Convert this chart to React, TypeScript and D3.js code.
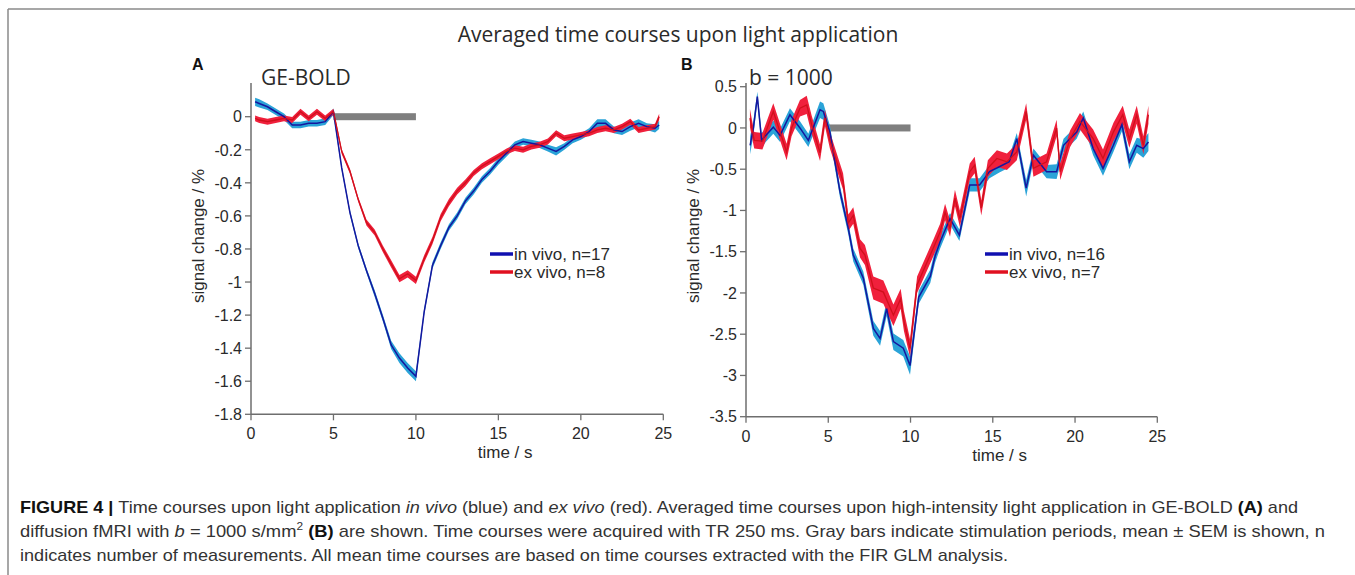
import React from "react";
import * as d3 from "d3";

// ---------- DATA ----------
const X_TICKS = [0, 5, 10, 15, 20, 25];
const A_Y_TICKS = [0, -0.2, -0.4, -0.6, -0.8, -1, -1.2, -1.4, -1.6, -1.8];
const B_Y_TICKS = [0.5, 0, -0.5, -1, -1.5, -2, -2.5, -3, -3.5];
const STIM = [5, 10];

// Panel A (GE-BOLD)
const A_TIME = [0.25, 0.5, 1, 1.5, 2, 2.5, 3, 3.5, 4, 4.5, 5, 5.5, 6, 6.5, 7, 7.5, 8, 8.5, 9, 9.5, 10, 10.5, 11, 11.5, 12, 12.5, 13, 13.5, 14, 14.5, 15, 15.5, 16, 16.5, 17, 17.5, 18, 18.5, 19, 19.5, 20, 20.5, 21, 21.5, 22, 22.5, 23, 23.5, 24, 24.5, 24.75];
const A_INVIVO = [0.09, 0.08, 0.06, 0.03, 0.0, -0.05, -0.05, -0.04, -0.04, -0.03, 0.03, -0.31, -0.58, -0.78, -0.93, -1.07, -1.22, -1.38, -1.46, -1.52, -1.57, -1.18, -0.9, -0.78, -0.67, -0.6, -0.51, -0.45, -0.38, -0.33, -0.27, -0.22, -0.17, -0.15, -0.16, -0.17, -0.19, -0.21, -0.18, -0.14, -0.12, -0.09, -0.04, -0.04, -0.08, -0.09, -0.06, -0.04, -0.06, -0.07, -0.05];
const A_INVIVO_SEM = [0.025, 0.025, 0.02, 0.02, 0.02, 0.02, 0.02, 0.02, 0.02, 0.02, 0.02, 0.015, 0.015, 0.015, 0.015, 0.02, 0.02, 0.025, 0.03, 0.03, 0.03, 0.02, 0.02, 0.02, 0.02, 0.02, 0.02, 0.02, 0.02, 0.02, 0.02, 0.02, 0.02, 0.02, 0.02, 0.02, 0.02, 0.025, 0.02, 0.02, 0.02, 0.02, 0.025, 0.025, 0.02, 0.02, 0.025, 0.025, 0.02, 0.025, 0.025];
const A_EXVIVO = [-0.01, -0.02, -0.03, -0.02, -0.01, -0.02, 0.03, -0.01, 0.03, -0.01, 0.03, -0.21, -0.33, -0.5, -0.64, -0.7, -0.8, -0.89, -0.98, -0.95, -0.99, -0.86, -0.75, -0.61, -0.52, -0.45, -0.4, -0.34, -0.3, -0.27, -0.24, -0.21, -0.19, -0.2, -0.18, -0.17, -0.15, -0.1, -0.13, -0.12, -0.11, -0.1, -0.08, -0.07, -0.08, -0.06, -0.03, -0.08, -0.07, -0.06, 0.0];
const A_EXVIVO_SEM = [0.018, 0.018, 0.018, 0.018, 0.018, 0.018, 0.018, 0.018, 0.018, 0.018, 0.018, 0.015, 0.015, 0.015, 0.018, 0.018, 0.02, 0.022, 0.022, 0.022, 0.022, 0.022, 0.022, 0.022, 0.022, 0.02, 0.02, 0.018, 0.018, 0.018, 0.018, 0.018, 0.018, 0.018, 0.018, 0.018, 0.018, 0.018, 0.018, 0.018, 0.018, 0.018, 0.018, 0.018, 0.018, 0.018, 0.018, 0.018, 0.018, 0.018, 0.018];

// Panel B (b = 1000)
const B_INVIVO_TIME = [0.25, 0.45, 0.69, 0.95, 1.2, 1.66, 2.07, 2.67, 3.28, 3.79, 4.5, 4.7, 5.1, 5.71, 6.22, 6.52, 7.13, 7.74, 8.15, 8.55, 8.96, 9.56, 9.97, 10.5, 11.2, 11.5, 11.8, 12.4, 12.97, 13.6, 14.2, 14.8, 15.4, 16.0, 16.46, 17.03, 17.47, 18.27, 18.88, 19.3, 20.1, 20.5, 21.1, 21.7, 22.33, 22.85, 23.3, 23.75, 24.15, 24.46];
const B_INVIVO = [-0.21, 0.0, 0.38, -0.15, -0.09, 0.01, -0.09, 0.16, 0.0, -0.15, 0.22, 0.2, -0.05, -0.77, -1.22, -1.54, -1.82, -2.43, -2.55, -2.19, -2.59, -2.67, -2.88, -2.05, -1.8, -1.55, -1.38, -1.1, -1.3, -0.69, -0.69, -0.53, -0.47, -0.41, -0.13, -0.73, -0.33, -0.53, -0.53, -0.21, -0.05, 0.12, -0.25, -0.49, -0.21, 0.04, -0.41, -0.21, -0.25, -0.17];
const B_INVIVO_SEM = [0.11, 0.09, 0.06, 0.09, 0.08, 0.08, 0.08, 0.08, 0.08, 0.08, 0.1, 0.1, 0.08, 0.07, 0.07, 0.08, 0.08, 0.09, 0.09, 0.09, 0.1, 0.1, 0.11, 0.08, 0.08, 0.08, 0.08, 0.07, 0.07, 0.08, 0.08, 0.08, 0.07, 0.07, 0.07, 0.1, 0.08, 0.08, 0.09, 0.08, 0.08, 0.08, 0.08, 0.09, 0.08, 0.08, 0.09, 0.09, 0.11, 0.11];
const B_EXVIVO_TIME = [0.24, 0.5, 1.0, 1.66, 2.47, 2.77, 3.28, 3.69, 3.99, 4.5, 4.8, 5.1, 5.71, 5.9, 6.22, 6.52, 6.93, 7.23, 7.74, 8.35, 8.96, 9.4, 9.6, 9.97, 10.4, 11.4, 11.8, 12.1, 12.4, 12.7, 13.0, 13.6, 13.9, 14.3, 14.7, 15.25, 15.86, 16.46, 17.03, 17.47, 18.27, 18.88, 19.1, 19.7, 20.3, 21.1, 21.7, 22.33, 22.9, 23.3, 23.75, 24.15, 24.46];
const B_EXVIVO = [0.12, -0.15, -0.16, 0.2, -0.29, 0.0, 0.24, 0.28, 0.04, -0.3, 0.12, -0.15, -0.53, -0.65, -1.15, -1.06, -1.46, -1.54, -1.94, -1.99, -2.27, -2.07, -2.34, -2.67, -1.9, -1.45, -1.26, -1.02, -1.22, -0.85, -1.1, -0.53, -0.45, -0.97, -0.49, -0.37, -0.41, -0.29, 0.2, -0.49, -0.41, 0.0, -0.53, -0.13, 0.08, -0.13, -0.37, -0.05, 0.16, -0.13, 0.16, -0.21, 0.16];
const B_EXVIVO_SEM = [0.11, 0.1, 0.1, 0.1, 0.1, 0.1, 0.1, 0.11, 0.11, 0.1, 0.1, 0.1, 0.1, 0.1, 0.1, 0.1, 0.11, 0.12, 0.14, 0.14, 0.13, 0.12, 0.12, 0.11, 0.1, 0.1, 0.1, 0.1, 0.1, 0.1, 0.1, 0.1, 0.1, 0.09, 0.1, 0.1, 0.1, 0.1, 0.1, 0.1, 0.1, 0.1, 0.1, 0.1, 0.1, 0.11, 0.11, 0.11, 0.11, 0.11, 0.11, 0.11, 0.11];

const MAIN_TITLE = "Averaged time courses upon light application";
const X_LABEL = "time / s";
const Y_LABEL = "signal change / %";

// ---------- STYLE ----------
const COL = {
  blueLine: "#15169e",
  blueBand: "#2aa3d8",
  redLine: "#d0101c",
  redBand: "#f0203c",
  axis: "#6e6e6e",
  text: "#2a2a2a",
  stim: "#7f7f7f",
};
const TICK_FONT = "'Liberation Sans', Arial, Helvetica, sans-serif";
const TITLE_FONT = "'Open Sans', 'Noto Sans', sans-serif";

type Series = { t: number[]; v: number[]; sem: number[] };

type PanelCfg = {
  letter: string;
  letterX: number;
  subtitle: string;
  subtitleX: number;
  x0: number;
  x1: number;
  yTop: number;
  yBottom: number;
  yDomain: [number, number];
  yTicks: number[];
  inVivo: Series;
  exVivo: Series;
  legendX: number;
  legendY: number;
  legend: [string, string];
};

function Panel({ cfg }: { cfg: PanelCfg }) {
  const x = d3.scaleLinear().domain([0, 25]).range([cfg.x0, cfg.x1]);
  const y = d3.scaleLinear().domain(cfg.yDomain).range([cfg.yBottom, cfg.yTop]);
  const axisY = y(cfg.yDomain[0]);

  const mk = (s: Series) => s.t.map((t, i) => ({ t, v: s.v[i], e: s.sem[i] }));
  const area = d3
    .area<{ t: number; v: number; e: number }>()
    .x((d) => x(d.t))
    .y0((d) => y(d.v - d.e))
    .y1((d) => y(d.v + d.e));
  const line = d3
    .line<{ t: number; v: number; e: number }>()
    .x((d) => x(d.t))
    .y((d) => y(d.v));

  const inv = mk(cfg.inVivo);
  const exv = mk(cfg.exVivo);

  return (
    <g>
      <text x={cfg.letterX} y={70} fontFamily={TICK_FONT} fontWeight="bold" fontSize={16} fill="#111">
        {cfg.letter}
      </text>
      <text x={cfg.subtitleX} y={85} fontFamily={TITLE_FONT} fontSize={21} fill={COL.text}>
        {cfg.subtitle}
      </text>

      {/* axes */}
      <line x1={cfg.x0} x2={cfg.x0} y1={83} y2={axisY} stroke={COL.axis} strokeWidth={1.5} />
      <line x1={cfg.x0} x2={cfg.x1} y1={axisY} y2={axisY} stroke={COL.axis} strokeWidth={1.5} />
      {cfg.yTicks.map((t) => (
        <g key={"y" + t}>
          <line x1={cfg.x0 - 6} x2={cfg.x0} y1={y(t)} y2={y(t)} stroke={COL.axis} strokeWidth={1.3} />
          <text
            x={cfg.x0 - 9}
            y={y(t)}
            dy="0.36em"
            textAnchor="end"
            fontFamily={TICK_FONT}
            fontSize={16}
            fill={COL.text}
          >
            {String(t)}
          </text>
        </g>
      ))}
      {X_TICKS.map((t) => (
        <g key={"x" + t}>
          <line x1={x(t)} x2={x(t)} y1={axisY} y2={axisY + 6} stroke={COL.axis} strokeWidth={1.3} />
          <text x={x(t)} y={axisY + 25} textAnchor="middle" fontFamily={TICK_FONT} fontSize={16} fill={COL.text}>
            {String(t)}
          </text>
        </g>
      ))}
      <text
        x={(cfg.x0 + cfg.x1) / 2 + 48}
        y={axisY + 44}
        textAnchor="middle"
        fontFamily={TICK_FONT}
        fontSize={17}
        fill={COL.text}
      >
        {X_LABEL}
      </text>
      <text
        transform={`translate(${cfg.x0 - 47},${236}) rotate(-90)`}
        textAnchor="middle"
        fontFamily={TICK_FONT}
        fontSize={17}
        fill={COL.text}
      >
        {Y_LABEL}
      </text>

      {/* stimulation bar */}
      <rect x={x(STIM[0])} y={y(0) - 3.5} width={x(STIM[1]) - x(STIM[0])} height={7} fill={COL.stim} />

      {/* data */}
      <path d={area(inv) || ""} fill={COL.blueBand} />
      <path d={area(exv) || ""} fill={COL.redBand} />
      <path d={line(inv) || ""} fill="none" stroke={COL.blueLine} strokeWidth={1.5} />
      <path d={line(exv) || ""} fill="none" stroke={COL.redLine} strokeWidth={1.3} />

      {/* legend */}
      <line x1={cfg.legendX} x2={cfg.legendX + 23} y1={cfg.legendY} y2={cfg.legendY} stroke="#1010b0" strokeWidth={3.5} />
      <text x={cfg.legendX + 24} y={cfg.legendY + 6} fontFamily={TICK_FONT} fontSize={17} fill={COL.text}>
        {cfg.legend[0]}
      </text>
      <line
        x1={cfg.legendX}
        x2={cfg.legendX + 23}
        y1={cfg.legendY + 18}
        y2={cfg.legendY + 18}
        stroke="#e01020"
        strokeWidth={3.5}
      />
      <text x={cfg.legendX + 24} y={cfg.legendY + 24} fontFamily={TICK_FONT} fontSize={17} fill={COL.text}>
        {cfg.legend[1]}
      </text>
    </g>
  );
}

const PANEL_A: PanelCfg = {
  letter: "A",
  letterX: 192,
  subtitle: "GE-BOLD",
  subtitleX: 261,
  x0: 251,
  x1: 663.3,
  yTop: 116.7,
  yBottom: 414.3,
  yDomain: [-1.8, 0],
  yTicks: A_Y_TICKS,
  inVivo: { t: A_TIME, v: A_INVIVO, sem: A_INVIVO_SEM },
  exVivo: { t: A_TIME, v: A_EXVIVO, sem: A_EXVIVO_SEM },
  legendX: 490,
  legendY: 254,
  legend: ["in vivo, n=17", "ex vivo, n=8"],
};

const PANEL_B: PanelCfg = {
  letter: "B",
  letterX: 681,
  subtitle: "b = 1000",
  subtitleX: 749,
  x0: 746,
  x1: 1157.3,
  yTop: 86.7,
  yBottom: 416.7,
  yDomain: [-3.5, 0.5],
  yTicks: B_Y_TICKS,
  inVivo: { t: B_INVIVO_TIME, v: B_INVIVO, sem: B_INVIVO_SEM },
  exVivo: { t: B_EXVIVO_TIME, v: B_EXVIVO, sem: B_EXVIVO_SEM },
  legendX: 985,
  legendY: 254,
  legend: ["in vivo, n=16", "ex vivo, n=7"],
};

const CAP_FONT = "'Liberation Sans', Arial, sans-serif";

export default function App() {
  return (
    <svg
      width={1355}
      height={575}
      viewBox="0 0 1355 575"
      style={{ position: "absolute", left: 0, top: 0, background: "#fff" }}
    >
      <rect x={0} y={0} width={1355} height={575} fill="#fff" />
      {/* frame */}
      <line x1={8} x2={1355} y1={9} y2={9} stroke="#8a8a8a" strokeWidth={1.5} />
      <line x1={8} x2={8} y1={9} y2={575} stroke="#8a8a8a" strokeWidth={1.5} />

      <text x={678} y={42} textAnchor="middle" fontFamily={TITLE_FONT} fontSize={21} fill={COL.text}>
        {MAIN_TITLE}
      </text>

      <Panel cfg={PANEL_A} />
      <Panel cfg={PANEL_B} />

      {/* caption */}
      <g fontFamily={CAP_FONT} fontSize={17} fill="#333">
        <text x={20} y={513} textLength={1278} lengthAdjust="spacingAndGlyphs">
          <tspan fontWeight="bold" fill="#111">FIGURE 4 | </tspan>
          <tspan>Time courses upon light application </tspan>
          <tspan fontStyle="italic">in vivo</tspan>
          <tspan> (blue) and </tspan>
          <tspan fontStyle="italic">ex vivo</tspan>
          <tspan> (red). Averaged time courses upon high-intensity light application in GE-BOLD </tspan>
          <tspan fontWeight="bold" fill="#111">(A)</tspan>
          <tspan> and</tspan>
        </text>
        <text x={20} y={537} textLength={1305} lengthAdjust="spacingAndGlyphs">
          <tspan>diffusion fMRI with </tspan>
          <tspan fontStyle="italic">b</tspan>
          <tspan> = 1000 s/mm</tspan>
          <tspan fontSize={11} dy={-7}>2</tspan>
          <tspan dy={7}> </tspan>
          <tspan fontWeight="bold" fill="#111">(B)</tspan>
          <tspan>
            {" "}
            are shown. Time courses were acquired with TR 250 ms. Gray bars indicate stimulation periods, mean ± SEM is
            shown, n
          </tspan>
        </text>
        <text x={20} y={561} textLength={988} lengthAdjust="spacingAndGlyphs">
          indicates number of measurements. All mean time courses are based on time courses extracted with the FIR GLM
          analysis.
        </text>
      </g>
    </svg>
  );
}
